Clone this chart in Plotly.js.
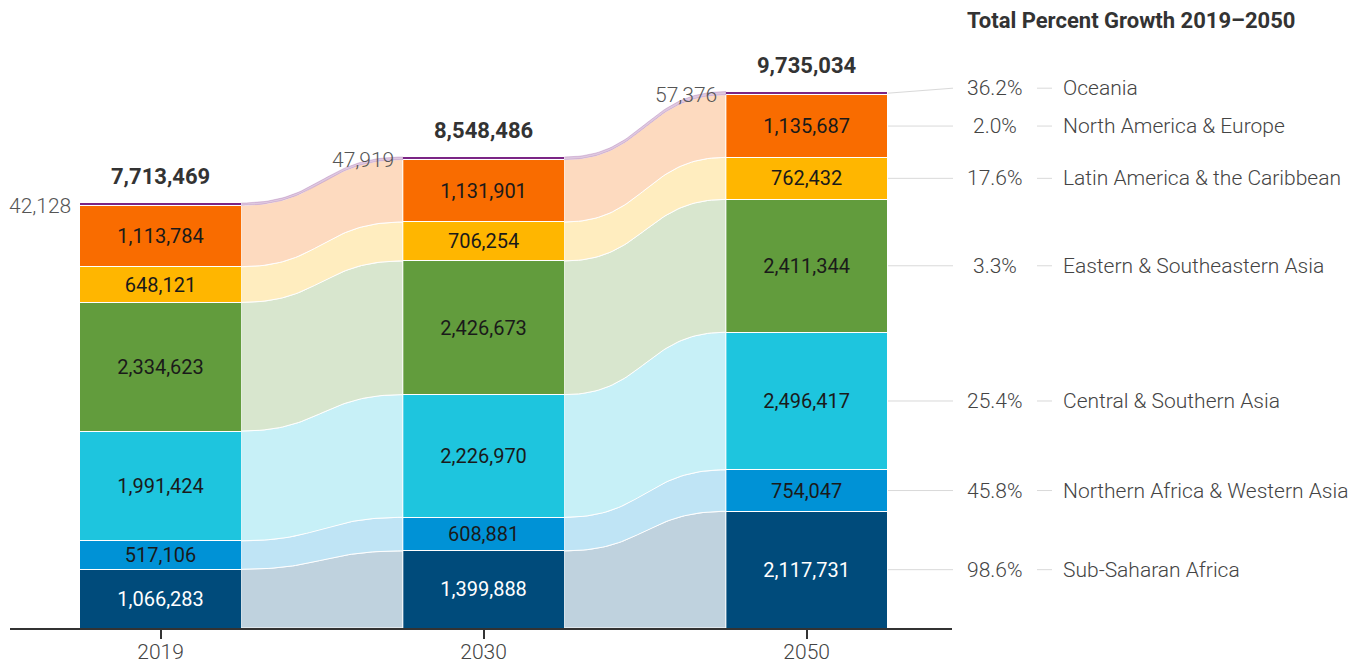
<!DOCTYPE html>
<html><head><meta charset="utf-8">
<script src="https://cdn.plot.ly/plotly-3.0.1.min.js"></script>
<style>html,body{margin:0;padding:0;background:#fff}#chart{width:1366px;height:664px}</style>
</head><body><div id="chart"></div>
<script>
// ---- data ----
const years = ["2019", "2030", "2050"];
const regions = ["Sub-Saharan Africa", "Northern Africa & Western Asia", "Central & Southern Asia",
  "Eastern & Southeastern Asia", "Latin America & the Caribbean", "North America & Europe", "Oceania"];
const pop2019 = [1066283, 517106, 1991424, 2334623, 648121, 1113784, 42128];
const pop2030 = [1399888, 608881, 2226970, 2426673, 706254, 1131901, 47919];
const pop2050 = [2117731, 754047, 2496417, 2411344, 762432, 1135687, 57376];
const totals = [7713469, 8548486, 9735034];
const growthPct = [98.6, 45.8, 25.4, 3.3, 17.6, 2.0, 36.2];
const colors = ["#004b7b", "#0092d6", "#1ec5de", "#629c3d", "#ffb600", "#f96c00", "#7b2585"];

// ---- geometry / style ----
const W = 1366, H = 664, ML = 10, MR = 414, MT = 10, MB = 36;
const PW = W - ML - MR, PH = H - MT - MB;
const XR = [-0.466, 2.450];
const YMAX = PH / 5.51e-5;
const unitsPerPx = YMAX / PH;
const BW = 0.5;
const FONT = "Roboto, 'Noto Sans', sans-serif";
const LIGHT = 300;
const series = [pop2019, pop2030, pop2050];
const xs = years.map((_, i) => i);
const fmt = v => v.toLocaleString("en-US");
const pxX = px => (px - ML) / PW;
const pxY = py => (H - MB - py) / PH;
const hexA = (hex, a) => {
  const n = parseInt(hex.slice(1), 16);
  return `rgba(${n >> 16},${(n >> 8) & 255},${n & 255},${a})`;
};
const cum = s => { let c = 0; return s.map(v => { const b = c; c += v; return b; }); };
const bases = series.map(cum);

const traces = [];

// ribbons between bars
for (let g = 0; g < years.length - 1; g++) {
  const x0 = g + BW / 2, x1 = g + 1 - BW / 2, xm = (x0 + x1) / 2;
  regions.forEach((r, i) => {
    const b0 = bases[g][i], t0 = b0 + series[g][i];
    const b1 = bases[g + 1][i], t1 = b1 + series[g + 1][i];
    const bez = (ya, yb, t) => {
      const u = 1 - t;
      return [u*u*u*x0 + 3*u*u*t*xm + 3*u*t*t*xm + t*t*t*x1,
              u*u*u*ya + 3*u*u*t*ya + 3*u*t*t*yb + t*t*t*yb];
    };
    const X = [], Y = [];
    const N = 48;
    for (let k = 0; k <= N; k++) { const p = bez(b0, b1, k / N); X.push(p[0]); Y.push(p[1]); }
    for (let k = N; k >= 0; k--) { const p = bez(t0, t1, k / N); X.push(p[0]); Y.push(p[1]); }
    traces.push({
      type: "scatter", mode: "lines", x: X, y: Y, fill: "toself",
      fillcolor: hexA(colors[i], 0.25),
      line: { color: i === regions.length - 1 ? hexA(colors[i], 0.22) : "#ffffff", width: 1 },
      hoverinfo: "skip", showlegend: false
    });
  });
}

// stacked bars
regions.forEach((r, i) => {
  traces.push({
    type: "bar", name: r, x: xs, y: series.map(s => s[i]), width: BW,
    marker: { color: colors[i], line: { color: "#ffffff", width: 1 } },
    text: series.map(s => fmt(s[i])),
    textposition: i === regions.length - 1 ? "none" : "inside",
    insidetextanchor: "middle", textangle: 0, constraintext: "none",
    textfont: { family: FONT, size: 20, weight: 400, color: i === 0 ? "#ffffff" : "#1a1a1a" },
    hoverinfo: "skip", showlegend: false
  });
});

const annotations = [];
const shapes = [];

// totals above bars
totals.forEach((t, g) => annotations.push({
  x: g, y: t, xref: "x", yref: "y", yanchor: "bottom", yshift: 12, showarrow: false,
  text: "<b>" + fmt(t) + "</b>", font: { family: FONT, size: 22, color: "#333333" }
}));

// Oceania small labels left of bars
const oi = regions.length - 1;
series.forEach((s, g) => annotations.push({
  x: g - BW / 2, y: bases[g][oi] + s[oi] / 2, xref: "x", yref: "y",
  xanchor: "right", yanchor: "middle", xshift: -7, yshift: -2, showarrow: false,
  text: fmt(s[oi]), font: { family: FONT, size: 21, weight: LIGHT, color: "#555555" }
}));

// right side labels
annotations.push({
  x: pxX(965), y: pxY(20), xref: "paper", yref: "paper", xanchor: "left", yanchor: "middle",
  showarrow: false, text: "<b>Total Percent Growth 2019–2050</b>",
  font: { family: FONT, size: 22, color: "#333333" }
});
const last = years.length - 1;
regions.forEach((r, i) => {
  const yc = bases[last][i] + series[last][i] / 2;
  const ylab = i === oi ? yc + 5 * unitsPerPx : yc;
  shapes.push({ type: "line", xref: "paper", yref: "y", x0: pxX(888), x1: pxX(953), y0: yc, y1: ylab,
    line: { color: "#d9d9d9", width: 1 } });
  shapes.push({ type: "line", xref: "paper", yref: "y", x0: pxX(1037), x1: pxX(1052), y0: ylab, y1: ylab,
    line: { color: "#d9d9d9", width: 1 } });
  annotations.push({ x: pxX(995), y: ylab, xref: "paper", yref: "y", xanchor: "center", yanchor: "middle",
    showarrow: false, text: growthPct[i].toFixed(1) + "%", font: { family: FONT, size: 21, weight: LIGHT, color: "#444444" } });
  annotations.push({ x: pxX(1061), y: ylab, xref: "paper", yref: "y", xanchor: "left", yanchor: "middle",
    showarrow: false, text: r, font: { family: FONT, size: 21, weight: LIGHT, color: "#444444" } });
});

const layout = {
  width: W, height: H, margin: { l: ML, r: MR, t: MT, b: MB, pad: 0 },
  paper_bgcolor: "#ffffff", plot_bgcolor: "#ffffff",
  barmode: "stack", bargap: 0,
  uniformtext: { mode: "show", minsize: 20 },
  font: { family: FONT, color: "#444444" },
  xaxis: {
    range: XR, tickmode: "array", tickvals: xs, ticktext: years,
    showline: true, linecolor: "#333333", linewidth: 2,
    ticks: "outside", ticklen: 9, tickwidth: 2, tickcolor: "#333333",
    ticklabelstandoff: -5,
    tickfont: { family: FONT, size: 21, weight: LIGHT, color: "#444444" },
    showgrid: false, zeroline: false, fixedrange: true
  },
  yaxis: { range: [0, YMAX], visible: false, showgrid: false, zeroline: false, fixedrange: true },
  annotations, shapes, showlegend: false
};

Plotly.newPlot("chart", traces, layout, { staticPlot: true, displayModeBar: false });
</script>
</body></html>
